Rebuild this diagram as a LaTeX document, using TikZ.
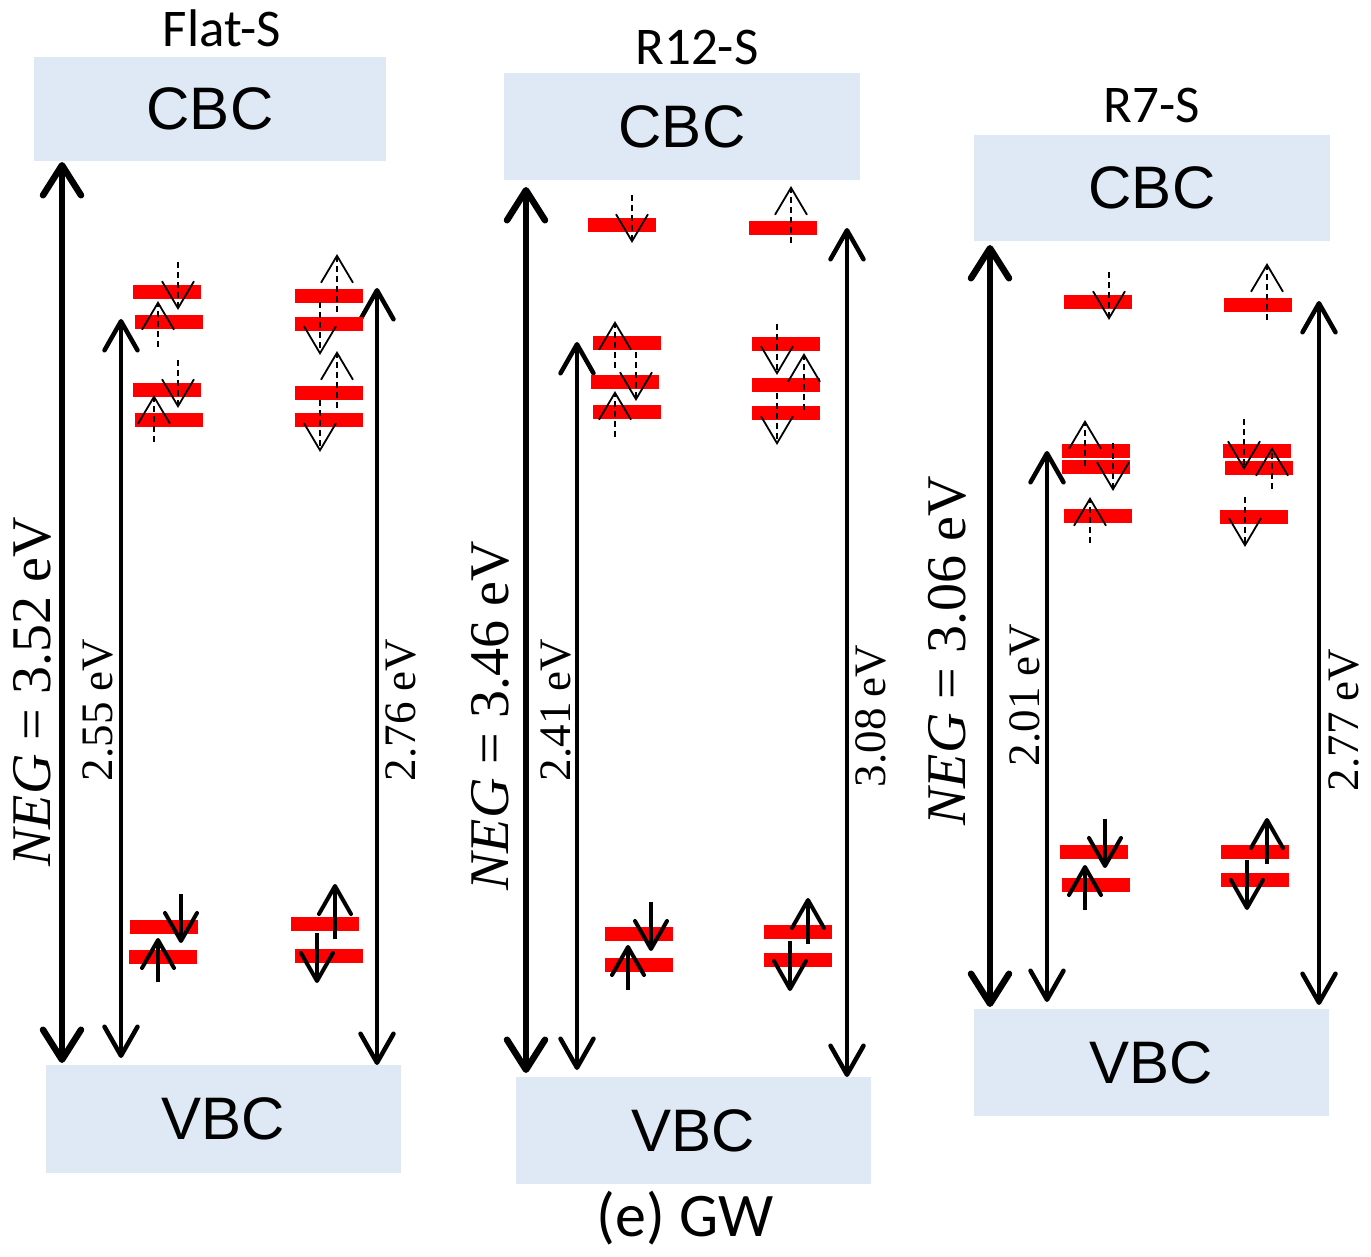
\documentclass[tikz,border=0pt]{standalone}
\usepackage{fontspec}
\setmainfont{Liberation Serif}
\newfontfamily\arialf{Liberation Sans}
\newfontfamily\calib{Carlito}
\usetikzlibrary{arrows.meta}
\definecolor{boxblue}{RGB}{222,233,245}
\definecolor{lvlred}{RGB}{255,0,0}
\tikzset{
  box/.style={fill=boxblue, draw=none, inner sep=0pt, font=\arialf\fontsize{60}{60}\selectfont},
  lvl/.style={fill=lvlred, draw=none, inner sep=0pt, minimum width=68pt, minimum height=14pt},
  negarrow/.style={line width=6.5pt, {Straight Barb[length=30pt,width=38pt,round]}-{Straight Barb[length=30pt,width=38pt,round]}},
  gaparrow/.style={line width=4.5pt, {Straight Barb[length=29pt,width=33pt,round]}-{Straight Barb[length=29pt,width=33pt,round]}},
  sspinst/.style={line width=4pt, -{Straight Barb[length=28pt,width=32pt,round]}},
  ospinst/.style={line width=1.8pt, dash pattern=on 6pt off 4pt, -{Straight Barb[length=27pt,width=32pt]}},
  neglabel/.style={rotate=90, font=\fontsize{56}{56}\selectfont, inner sep=0pt},
  gaplabel/.style={rotate=90, font=\fontsize{45}{45}\selectfont, inner sep=0pt},
  title/.style={font=\calib\fontsize{53}{53}\selectfont, inner sep=0pt}
}
\newcommand\ospin[3]{\draw[ospinst] (#1,#2) -- (#1,#3);}
\newcommand\sspin[3]{\draw[sspinst] (#1,#2) -- (#1,#3);}
\begin{document}
\begin{tikzpicture}[x=1pt,y=-1pt]
\useasboundingbox (0,0) rectangle (1371,1257);
% ---------- Panel 1: Flat-S ----------
\node[title] (t1) at (222,28) {Flat-S};
\node[box, minimum width=352pt, minimum height=104pt] (cbc1) at (210,109) {CBC};
\node[box, minimum width=355pt, minimum height=108pt] (vbc1) at (223.5,1119) {VBC};
\coordinate (n1t) at (62,162); \coordinate (n1b) at (62,1063);
\coordinate (g1t) at (121,319); \coordinate (g1b) at (121,1058);
\coordinate (h1t) at (377,288); \coordinate (h1b) at (377,1065);
\draw[negarrow] (n1t) -- (n1b);
\draw[gaparrow] (g1t) -- (g1b);
\draw[gaparrow] (h1t) -- (h1b);
\node[neglabel] (ln1) at (32,692) {\textit{NEG} = 3.52 eV};
\node[gaplabel] (lg1) at (98,710) {2.55 eV};
\node[gaplabel] (lh1) at (401,710) {2.76 eV};
\node[lvl] (a1) at (167,292) {};
\node[lvl] (a2) at (169,322) {};
\node[lvl] (a3) at (167,390) {};
\node[lvl] (a4) at (169,420) {};
\node[lvl] (a5) at (164,927) {};
\node[lvl] (a6) at (163,957) {};
\node[lvl] (b1) at (328.5,296) {};
\node[lvl] (b2) at (328.5,324) {};
\node[lvl] (b3) at (328.5,393) {};
\node[lvl] (b4) at (328.5,420) {};
\node[lvl] (b5) at (324.5,924) {};
\node[lvl] (b6) at (328.5,956) {};
\ospin{178}{262}{310} \ospin{158}{347}{301} \ospin{178}{360}{408} \ospin{154}{442}{395}
\ospin{337}{312}{254} \ospin{320}{302}{355} \ospin{337}{408}{351} \ospin{320}{400}{452}
\sspin{181}{894}{943} \sspin{158}{982}{938} \sspin{335}{939}{884} \sspin{317}{933}{983}
% ---------- Panel 2: R12-S ----------
\node[title] (t2) at (697,47) {R12-S};
\node[box, minimum width=356pt, minimum height=107pt] (cbc2) at (682,126.5) {CBC};
\node[box, minimum width=355pt, minimum height=107pt] (vbc2) at (693.5,1130.5) {VBC};
\node[title, font=\calib\fontsize{62}{62}\selectfont] (cap) at (685,1218) {(e) GW};
\coordinate (n2t) at (526,187); \coordinate (n2b) at (526,1073);
\coordinate (g2t) at (577,342); \coordinate (g2b) at (577,1070);
\coordinate (h2t) at (847,228); \coordinate (h2b) at (847,1077);
\draw[negarrow] (n2t) -- (n2b);
\draw[gaparrow] (g2t) -- (g2b);
\draw[gaparrow] (h2t) -- (h2b);
\node[neglabel] (ln2) at (490,716) {\textit{NEG} = 3.46 eV};
\node[gaplabel] (lg2) at (556,710) {2.41 eV};
\node[gaplabel] (lh2) at (871,716) {3.08 eV};
\node[lvl] (c1) at (621.5,225) {};
\node[lvl] (c2) at (626.5,343) {};
\node[lvl] (c3) at (625,382) {};
\node[lvl] (c4) at (626.5,412) {};
\node[lvl] (c5) at (639,934) {};
\node[lvl] (c6) at (639,965) {};
\node[lvl] (d1) at (782.5,228) {};
\node[lvl] (d2) at (785.5,344) {};
\node[lvl] (d3) at (785.5,385) {};
\node[lvl] (d4) at (785.5,413) {};
\node[lvl] (d5) at (797.5,932) {};
\node[lvl] (d6) at (797.5,960) {};
\ospin{632}{195}{243} \ospin{791}{243}{186}
\ospin{615}{368}{321} \ospin{636}{352}{401} \ospin{615}{437}{391}
\ospin{777}{324}{375} \ospin{804}{410}{353} \ospin{777}{393}{445}
\sspin{651}{902}{951} \sspin{628}{990}{945} \sspin{808}{944}{898} \sspin{790}{941}{991}
% ---------- Panel 3: R7-S ----------
\node[title] (t3) at (1152,105) {R7-S};
\node[box, minimum width=356pt, minimum height=106pt] (cbc3) at (1152,188) {CBC};
\node[box, minimum width=355pt, minimum height=107pt] (vbc3) at (1151.5,1062.5) {VBC};
\coordinate (n3t) at (990,245); \coordinate (n3b) at (990,1007);
\coordinate (g3t) at (1047,451); \coordinate (g3b) at (1047,1002);
\coordinate (h3t) at (1319,301); \coordinate (h3b) at (1319,1005);
\draw[negarrow] (n3t) -- (n3b);
\draw[gaparrow] (g3t) -- (g3b);
\draw[gaparrow] (h3t) -- (h3b);
\node[neglabel] (ln3) at (947,651) {\textit{NEG} = 3.06 eV};
\node[gaplabel] (lg3) at (1025,695) {2.01 eV};
\node[gaplabel] (lh3) at (1344,720) {2.77 eV};
\node[lvl] (e1) at (1098,302) {};
\node[lvl] (e2) at (1096,451) {};
\node[lvl] (e3) at (1096,467) {};
\node[lvl] (e4) at (1098,516) {};
\node[lvl] (e5) at (1094,852) {};
\node[lvl] (e6) at (1096,885) {};
\node[lvl] (f1) at (1258,305) {};
\node[lvl] (f2) at (1256.5,451) {};
\node[lvl] (f3) at (1258.5,468) {};
\node[lvl] (f4) at (1253.5,517) {};
\node[lvl] (f5) at (1255,852) {};
\node[lvl] (f6) at (1255,880) {};
\ospin{1109}{272}{320} \ospin{1267}{320}{263}
\ospin{1085}{466}{420} \ospin{1113}{443}{491} \ospin{1090}{543}{497}
\ospin{1244}{419}{470} \ospin{1272}{489}{447} \ospin{1245}{497}{547}
\sspin{1105}{819}{868} \sspin{1085}{910}{865} \sspin{1267}{864}{818} \sspin{1247}{860}{910}
\end{tikzpicture}
\end{document}
